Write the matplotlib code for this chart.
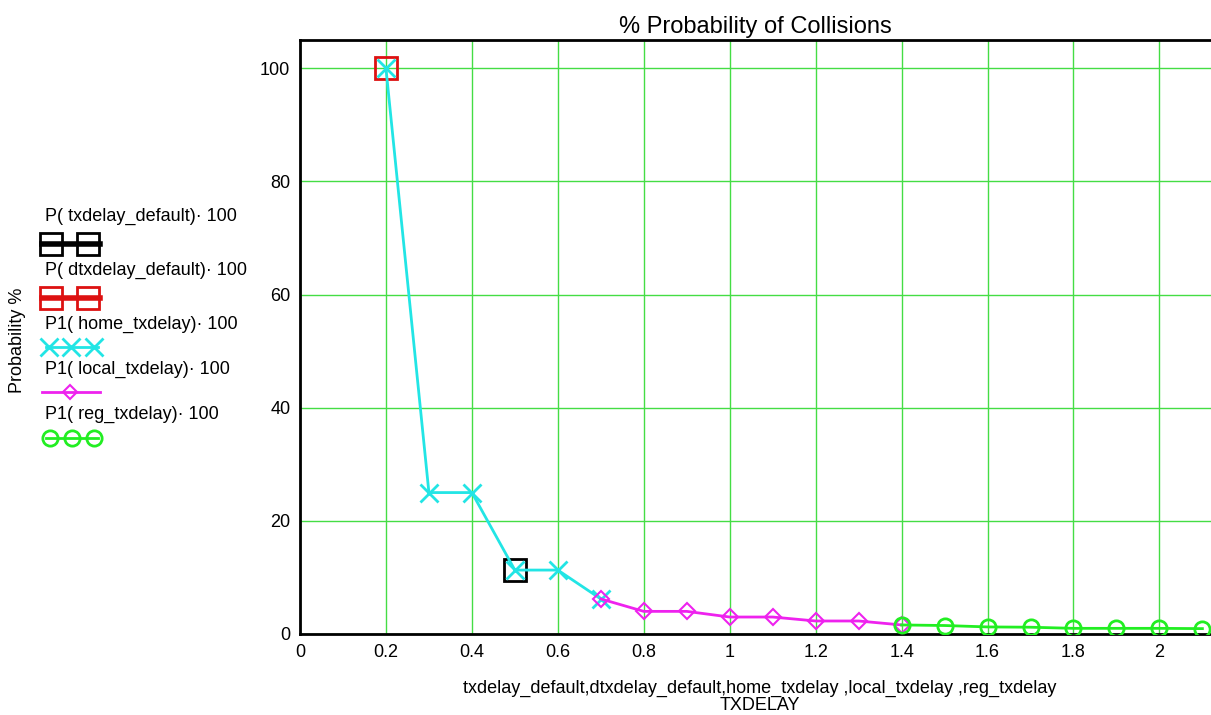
import matplotlib
matplotlib.use("Agg")
import matplotlib.pyplot as plt

plt.rcParams['font.family'] = ['Liberation Sans', 'DejaVu Sans']

# data
txdelay_default_x = [0.5]
txdelay_default_y = [11.3]

dtxdelay_default_x = [0.2]
dtxdelay_default_y = [100]

home_x = [0.2, 0.3, 0.4, 0.5, 0.6, 0.7]
home_y = [100, 25, 25, 11.3, 11.3, 6.2]

local_x = [0.7, 0.8, 0.9, 1.0, 1.1, 1.2, 1.3, 1.4]
local_y = [6.2, 4.0, 4.0, 3.0, 3.0, 2.3, 2.3, 1.6]

reg_x = [1.4, 1.5, 1.6, 1.7, 1.8, 1.9, 2.0, 2.1]
reg_y = [1.6, 1.5, 1.25, 1.2, 1.0, 1.0, 1.0, 0.95]

x_ticks = [0, 0.2, 0.4, 0.6, 0.8, 1.0, 1.2, 1.4, 1.6, 1.8, 2.0]
x_ticklabels = ["0", "0.2", "0.4", "0.6", "0.8", "1", "1.2", "1.4", "1.6", "1.8", "2"]
y_ticks = [0, 20, 40, 60, 80, 100]

labels = ["P( txdelay_default)· 100", "P( dtxdelay_default)· 100",
          "P1( home_txdelay)· 100", "P1( local_txdelay)· 100", "P1( reg_txdelay)· 100"]

W, H = 1211, 715
fig = plt.figure(figsize=(W / 100, H / 100), dpi=100)
ax = fig.add_axes([300 / W, (H - 634) / H, 911 / W, 594 / H])

grid_col = "#44dd44"
cyan = "#22e5e5"
magenta = "#ee22ee"
green = "#22ee22"

ax.plot(txdelay_default_x, txdelay_default_y, color="black", lw=3, marker="s",
        ms=16, mfc="none", mew=2, zorder=3)
ax.plot(dtxdelay_default_x, dtxdelay_default_y, color="#dd1111", lw=3, marker="s",
        ms=16, mfc="none", mew=2, zorder=3)
ax.plot(home_x, home_y, color=cyan, lw=2, marker="x", ms=13, mew=2, zorder=4)
ax.plot(local_x, local_y, color=magenta, lw=2, marker="D", ms=8, mfc="none", mew=1.5, zorder=5)
ax.plot(reg_x, reg_y, color=green, lw=2, marker="o", ms=11, mfc="none", mew=2, zorder=6)

ax.set_xlim(0, 2.12)
ax.set_ylim(0, 105)
ax.set_xticks(x_ticks)
ax.set_xticklabels(x_ticklabels)
ax.set_yticks(y_ticks)
ax.tick_params(length=0, labelsize=13, pad=7)
ax.grid(True, color=grid_col, lw=1)
ax.set_axisbelow(True)
for s in ["top", "left", "bottom"]:
    ax.spines[s].set_linewidth(2)
ax.spines["right"].set_visible(False)

ax.set_title("% Probability of Collisions", fontsize=17, pad=5)
# two-line x label
fig.text(760 / W, 1 - 688 / H, "txdelay_default,dtxdelay_default,home_txdelay ,local_txdelay ,reg_txdelay",
         fontsize=13, ha="center", va="center")
fig.text(760 / W, 1 - 705 / H, "TXDELAY", fontsize=13, ha="center", va="center")
fig.text(18 / W, 1 - 340 / H, "Probability %", rotation=90, fontsize=13,
         ha="center", va="center")

# legend drawn on the left, labels above samples
leg = fig.add_axes([0, 0, 300 / W, 1])
leg.set_xlim(0, 300)
leg.set_ylim(H, 0)
leg.axis("off")
label_y = [216, 270, 324, 369, 414]
for lbl, y in zip(labels, label_y):
    leg.text(45, y, lbl, fontsize=13, ha="left", va="center")
leg.plot([42, 100], [244, 244], color="black", lw=4)
leg.plot([51, 88], [244, 244], ls="none", marker="s", ms=16, mfc="none", mec="black", mew=2)
leg.plot([42, 100], [298, 298], color="#dd1111", lw=4)
leg.plot([51, 88], [298, 298], ls="none", marker="s", ms=16, mfc="none", mec="#dd1111", mew=2)
leg.plot([46, 98], [347, 347], color=cyan, lw=2)
leg.plot([49, 71, 94], [347] * 3, ls="none", marker="x", ms=13, mec=cyan, mew=2)
leg.plot([42, 100], [392, 392], color=magenta, lw=2)
leg.plot([70], [392], ls="none", marker="D", ms=7, mfc="none", mec=magenta, mew=1.5)
leg.plot([46, 98], [438, 438], color=green, lw=2)
leg.plot([50, 72, 94], [438] * 3, ls="none", marker="o", ms=11, mfc="none", mec=green, mew=2)

fig.savefig("out.png", dpi=100)
